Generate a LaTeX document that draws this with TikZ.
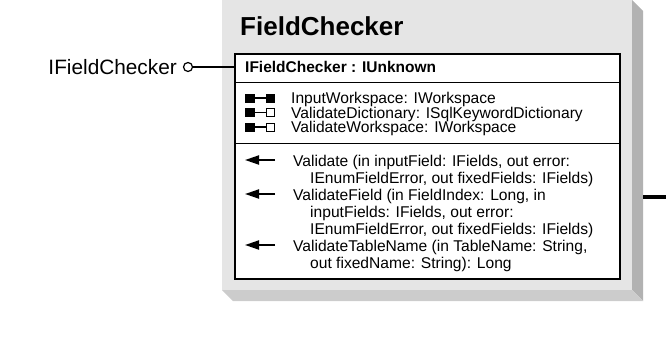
\documentclass[tikz,border=0pt]{standalone}
\usepackage{fontspec}
\setmainfont{Liberation Sans}
\usetikzlibrary{arrows.meta}
\definecolor{boxgray}{HTML}{E5E5E5}
\definecolor{sidegray}{HTML}{B2B2B2}
\definecolor{basegray}{HTML}{CCCCCC}
\tikzset{
  member/.style={anchor=base west,inner sep=0pt,font=\fontsize{15.6}{17}\selectfont},
  getset/.style={fill=black},
  setonly/.style={draw=black,fill=white,line width=1pt},
  method/.style={line width=2pt,-{Triangle[length=14pt,width=9pt]}}
}
\begin{document}
\begin{tikzpicture}[x=1pt,y=-1pt]
            \useasboundingbox (0,0) rectangle (666,340);
            \fill[sidegray] (632,0) -- (643,11) -- (643,301) -- (632,290) -- cycle;
            \fill[basegray] (222,290) -- (632,290) -- (643,301) -- (233,301) -- cycle;
            \fill[boxgray] (222,0) rectangle (632,290);
            \draw (240,35) node[anchor=base west,inner sep=0pt,font=\fontsize{26}{28}\bfseries] (title) {FieldChecker};
            \node[draw,line width=1.5pt,fill=white,anchor=north west,inner sep=0pt,minimum width=385pt,minimum height=225pt] (cls) at (234,53) {};
            \draw[line width=1pt] (234,82) -- (619,82);
            \draw[line width=1pt] (234,143) -- (619,143);
            \draw (245,72.5) node[anchor=base west,inner sep=0pt,font=\fontsize{15.5}{17}\bfseries] (iface) {IFieldChecker : IUnknown};
            \draw (177,74.5) node[anchor=base east,inner sep=0pt,font=\fontsize{20.8}{22}\selectfont] (lname) {IFieldChecker};
            \node[draw,circle,line width=1.2pt,inner sep=0pt,minimum size=9pt] (lolly) at (188,67) {};
            \draw[line width=1.2pt] (lolly.east) -- (lolly -| cls.west);
            \coordinate (stub) at (666,197);
            \draw[line width=4pt] (643,197) -- (stub);
            % properties
            \fill[getset] (245,93.5) rectangle (254.5,102.5);
            \draw[line width=1.5pt] (254,98) -- (266,98);
            \fill[getset] (265.5,93.5) rectangle (275,102.5);
            \fill[getset] (245,108) rectangle (254.5,117);
            \draw[line width=1.5pt] (254,112.5) -- (266,112.5);
            \draw[setonly] (266.5,108.5) rectangle (274.5,116.5);
            \fill[getset] (245,122.5) rectangle (254.5,131.5);
            \draw[line width=1.5pt] (254,127) -- (266,127);
            \draw[setonly] (266.5,123) rectangle (274.5,131);
            \draw (291,103.6) node[member] (pInput) {InputWorkspace: IWorkspace};
            \draw (291,118.1) node[member] (pDict) {ValidateDictionary: ISqlKeywordDictionary};
            \draw (291,132.6) node[member] (pWork) {ValidateWorkspace: IWorkspace};
            % methods
            \draw[method] (275,160) -- (245,160);
            \draw[method] (275,194) -- (245,194);
            \draw[method] (275,245) -- (245,245);
            \draw (293,166) node[member] (mVal) {Validate (in inputField: IFields, out error:};
            \draw (310,183) node[member] (mValB) {IEnumFieldError, out fixedFields: IFields)};
            \draw (293,200) node[member] (mField) {ValidateField (in FieldIndex: Long, in};
            \draw (310,217) node[member] (mFieldB) {inputFields: IFields, out error:};
            \draw (310,234) node[member] (mFieldC) {IEnumFieldError, out fixedFields: IFields)};
            \draw (293,251) node[member] (mTable) {ValidateTableName (in TableName: String,};
            \draw (310,268) node[member] (mTableB) {out fixedName: String): Long};
         \end{tikzpicture}
\end{document}
